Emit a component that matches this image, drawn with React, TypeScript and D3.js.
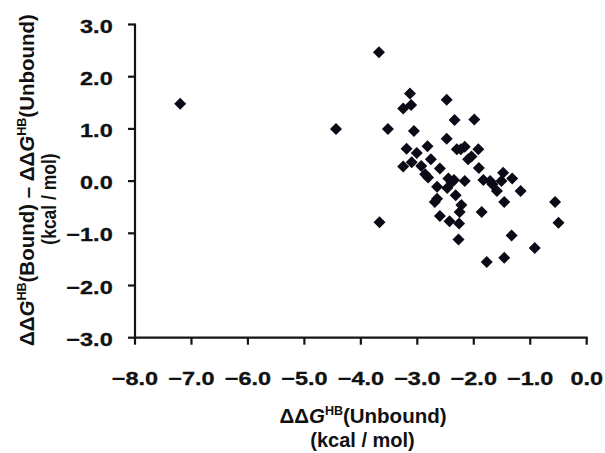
import React from "react";
import * as d3 from "d3";

const xTicks = [-8, -7, -6, -5, -4, -3, -2, -1, 0];
const yTicks = [-3, -2, -1, 0, 1, 2, 3];

const unbound = [
  -7.2, -4.44, -3.68, -3.67, -3.52, -3.13, -3.25, -3.11, -3.06, -2.48,
  -2.34, -1.99, -2.48, -3.19, -3.01, -2.82, -2.76, -3.25, -3.1, -2.93,
  -2.6, -2.3, -2.23, -2.16, -1.92, -2.1, -2.04, -1.91, -1.48, -2.86,
  -2.81, -2.45, -2.35, -2.16, -2.65, -2.47, -1.83, -1.71, -1.67, -1.59,
  -1.51, -1.32, -1.17, -2.32, -2.69, -2.65, -1.46, -2.22, -2.25, -2.6,
  -2.43, -2.26, -1.86, -2.27, -1.33, -0.92, -1.77, -1.46, -0.56, -0.5,
  -2.39,
];
const diff = [
  1.48, 1.0, 2.47, -0.79, 1.0, 1.68, 1.39, 1.46, 0.96, 1.56,
  1.17, 1.18, 0.81, 0.62, 0.54, 0.67, 0.42, 0.28, 0.36, 0.29,
  0.24, 0.61, 0.61, 0.66, 0.61, 0.42, 0.47, 0.25, 0.16, 0.13,
  0.07, 0.05, 0.02, 0.0, -0.11, -0.13, 0.02, 0.0, -0.06, -0.19,
  0.0, 0.05, -0.19, -0.27, -0.4, -0.34, -0.4, -0.46, -0.59, -0.67,
  -0.77, -0.81, -0.59, -1.12, -1.04, -1.28, -1.55, -1.47, -0.4, -0.8,
  -0.02,
];

const W = 605;
const H = 453;
const left = 135;
const right = 586.7;
const top = 24.5;
const bottom = 337.7;

export default function App() {
  const x = d3.scaleLinear().domain([-8, 0]).range([left, right]);
  const y = d3.scaleLinear().domain([-3, 3]).range([bottom, top]);
  const fmt = d3.format(".1f");
  const axisColor = "#141414";
  const tickLen = 7;
  const font = "'Liberation Sans', Arial, sans-serif";
  const diamond = (cx: number, cy: number, r: number) =>
    `M${cx},${cy - r}L${cx + r},${cy}L${cx},${cy + r}L${cx - r},${cy}Z`;

  return (
    <svg
      width={W}
      height={H}
      style={{ position: "absolute", left: 0, top: 0, background: "#fff" }}
      fontFamily={font}
    >
      <rect x={0} y={0} width={W} height={H} fill="#fff" />
      {/* axes */}
      <line x1={left} x2={left} y1={top - 1} y2={bottom + 1} stroke={axisColor} strokeWidth={2.2} />
      <line x1={left - 1} x2={right + 1} y1={bottom} y2={bottom} stroke={axisColor} strokeWidth={2.2} />
      {yTicks.map((t) => (
        <g key={"y" + t}>
          <line x1={left - tickLen} x2={left} y1={y(t)} y2={y(t)} stroke={axisColor} strokeWidth={2.2} />
          <text
            transform={`translate(112.7,${y(t) + 8}) scale(1.27,1)`}
            textAnchor="end"
            fontSize={18.5}
            fontWeight="bold"
            fill="#111"
            stroke="#111"
            strokeWidth={0.3}
          >
            {fmt(t)}
          </text>
        </g>
      ))}
      {xTicks.map((t) => (
        <g key={"x" + t}>
          <line x1={x(t)} x2={x(t)} y1={bottom} y2={bottom + tickLen} stroke={axisColor} strokeWidth={2.2} />
          <text
            transform={`translate(${x(t)},${bottom + 47.3}) scale(1.27,1)`}
            textAnchor="middle"
            fontSize={18.5}
            fontWeight="bold"
            fill="#111"
            stroke="#111"
            strokeWidth={0.3}
          >
            {fmt(t)}
          </text>
        </g>
      ))}
      {/* points */}
      {unbound.map((u, i) => (
        <path key={"p" + i} d={diamond(x(u), y(diff[i]), 6)} fill="#0b0b18" />
      ))}
      {/* x title */}
      <text x={363} y={423} textAnchor="middle" fontSize={20.5} fontWeight="bold" fill="#111">
        ΔΔ<tspan fontStyle="italic">G</tspan>
        <tspan fontSize={12.5} dy={-8}>HB</tspan>
        <tspan dy={8}>(Unbound)</tspan>
      </text>
      <text x={362.5} y={447} textAnchor="middle" fontSize={20} fontWeight="bold" fill="#111">
        (kcal / mol)
      </text>
      {/* y title */}
      <text
        transform={`translate(34,180) rotate(-90)`}
        textAnchor="middle"
        fontSize={20.5}
        fontWeight="bold"
        fill="#111"
      >
        ΔΔ<tspan fontStyle="italic">G</tspan>
        <tspan fontSize={12.5} dy={-8}>HB</tspan>
        <tspan dy={8}>(Bound) – ΔΔ</tspan>
        <tspan fontStyle="italic">G</tspan>
        <tspan fontSize={12.5} dy={-8}>HB</tspan>
        <tspan dy={8}>(Unbound)</tspan>
      </text>
      <text
        transform={`translate(56,199) rotate(-90) scale(1,1.2)`}
        textAnchor="middle"
        fontSize={17.5}
        fontWeight="bold"
        fill="#111"
      >
        (kcal / mol)
      </text>
    </svg>
  );
}
